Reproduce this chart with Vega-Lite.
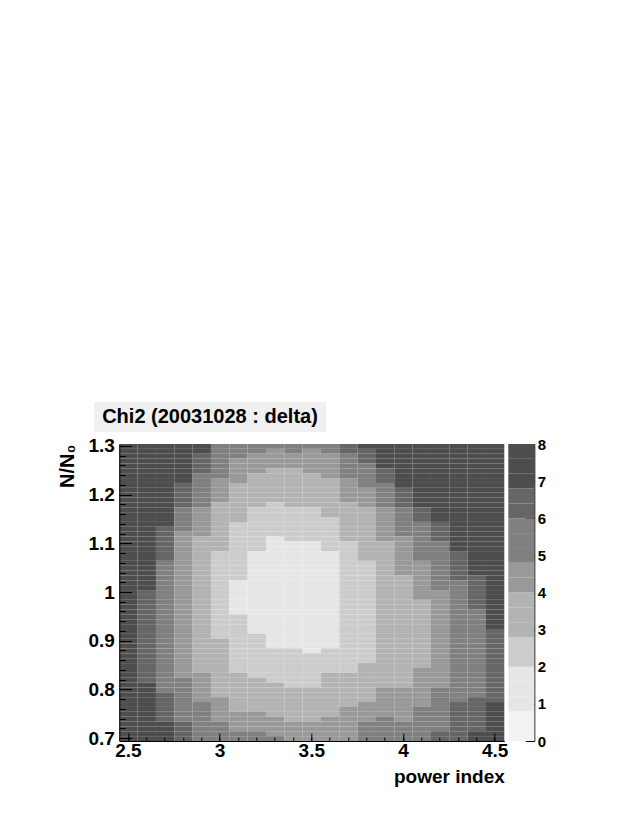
{
 "$schema": "https://vega.github.io/schema/vega-lite/v6.json",
 "padding": {"left": 57, "top": 402, "right": 5, "bottom": 5},
 "config": {"view": {"stroke": null}, "font": "Liberation Sans", "axis": {"grid": false}},
 "datasets": {
  "heat": [
   {"y":1.3,"x25":7.4,"x26":7.4,"x27":7.4,"x28":7.4,"x29":7.4,"x30":5.4,"x31":5.4,"x32":5.4,"x33":5.4,"x34":5.4,"x35":5.4,"x36":5.4,"x37":6.6,"x38":7.4,"x39":7.4,"x40":7.4,"x41":7.4,"x42":7.4,"x43":7.4,"x44":7.4,"x45":7.4},
   {"y":1.29,"x25":7.4,"x26":7.4,"x27":7.4,"x28":7.4,"x29":7.4,"x30":5.4,"x31":5.4,"x32":5.4,"x33":4.6,"x34":5.4,"x35":4.6,"x36":5.4,"x37":6.6,"x38":6.6,"x39":7.4,"x40":7.4,"x41":7.4,"x42":7.4,"x43":7.4,"x44":7.4,"x45":7.4},
   {"y":1.28,"x25":7.4,"x26":7.4,"x27":7.4,"x28":7.4,"x29":6.6,"x30":5.4,"x31":5.4,"x32":4.6,"x33":4.6,"x34":4.6,"x35":4.6,"x36":4.6,"x37":5.4,"x38":6.6,"x39":7.4,"x40":7.4,"x41":7.4,"x42":7.4,"x43":7.4,"x44":7.4,"x45":7.4},
   {"y":1.27,"x25":7.4,"x26":7.4,"x27":7.4,"x28":7.4,"x29":6.6,"x30":5.4,"x31":4.6,"x32":4.6,"x33":4.6,"x34":4.6,"x35":4.6,"x36":4.6,"x37":5.4,"x38":6.6,"x39":7.4,"x40":7.4,"x41":7.4,"x42":7.4,"x43":7.4,"x44":7.4,"x45":7.4},
   {"y":1.26,"x25":7.4,"x26":7.4,"x27":7.4,"x28":7.4,"x29":6.6,"x30":5.4,"x31":4.6,"x32":4.6,"x33":4.6,"x34":4.6,"x35":4.6,"x36":4.6,"x37":5.4,"x38":5.4,"x39":7.4,"x40":7.4,"x41":7.4,"x42":7.4,"x43":7.4,"x44":7.4,"x45":7.4},
   {"y":1.25,"x25":7.4,"x26":7.4,"x27":7.4,"x28":7.4,"x29":6.6,"x30":5.4,"x31":4.6,"x32":4.6,"x33":3.4,"x34":3.4,"x35":4.6,"x36":4.6,"x37":5.4,"x38":5.4,"x39":6.6,"x40":7.4,"x41":7.4,"x42":7.4,"x43":7.4,"x44":7.4,"x45":7.4},
   {"y":1.24,"x25":7.4,"x26":7.4,"x27":7.4,"x28":7.4,"x29":5.4,"x30":5.4,"x31":4.6,"x32":3.4,"x33":3.4,"x34":3.4,"x35":3.4,"x36":4.6,"x37":5.4,"x38":5.4,"x39":6.6,"x40":7.4,"x41":7.4,"x42":7.4,"x43":7.4,"x44":7.4,"x45":7.4},
   {"y":1.23,"x25":7.4,"x26":7.4,"x27":7.4,"x28":7.4,"x29":5.4,"x30":4.6,"x31":4.6,"x32":3.4,"x33":3.4,"x34":3.4,"x35":3.4,"x36":3.4,"x37":4.6,"x38":5.4,"x39":6.6,"x40":7.4,"x41":7.4,"x42":7.4,"x43":7.4,"x44":7.4,"x45":7.4},
   {"y":1.22,"x25":7.4,"x26":7.4,"x27":7.4,"x28":6.6,"x29":5.4,"x30":4.6,"x31":3.4,"x32":3.4,"x33":3.4,"x34":3.4,"x35":3.4,"x36":3.4,"x37":4.6,"x38":5.4,"x39":5.4,"x40":7.4,"x41":7.4,"x42":7.4,"x43":7.4,"x44":7.4,"x45":7.4},
   {"y":1.21,"x25":7.4,"x26":7.4,"x27":7.4,"x28":6.6,"x29":5.4,"x30":4.6,"x31":3.4,"x32":3.4,"x33":3.4,"x34":3.4,"x35":3.4,"x36":3.4,"x37":4.6,"x38":4.6,"x39":5.4,"x40":6.6,"x41":7.4,"x42":7.4,"x43":7.4,"x44":7.4,"x45":7.4},
   {"y":1.2,"x25":7.4,"x26":7.4,"x27":7.4,"x28":6.6,"x29":5.4,"x30":4.6,"x31":3.4,"x32":3.4,"x33":3.4,"x34":3.4,"x35":3.4,"x36":3.4,"x37":4.6,"x38":4.6,"x39":5.4,"x40":6.6,"x41":7.4,"x42":7.4,"x43":7.4,"x44":7.4,"x45":7.4},
   {"y":1.19,"x25":7.4,"x26":7.4,"x27":7.4,"x28":6.6,"x29":5.4,"x30":4.6,"x31":3.4,"x32":3.4,"x33":3.4,"x34":3.4,"x35":3.4,"x36":3.4,"x37":4.6,"x38":4.6,"x39":5.4,"x40":6.6,"x41":7.4,"x42":7.4,"x43":7.4,"x44":7.4,"x45":7.4},
   {"y":1.18,"x25":7.4,"x26":7.4,"x27":7.4,"x28":6.6,"x29":5.4,"x30":3.4,"x31":3.4,"x32":3.4,"x33":2.6,"x34":3.4,"x35":3.4,"x36":3.4,"x37":3.4,"x38":4.6,"x39":5.4,"x40":6.6,"x41":7.4,"x42":7.4,"x43":7.4,"x44":7.4,"x45":7.4},
   {"y":1.17,"x25":7.4,"x26":7.4,"x27":7.4,"x28":5.4,"x29":4.6,"x30":3.4,"x31":3.4,"x32":2.6,"x33":2.6,"x34":2.6,"x35":2.6,"x36":3.4,"x37":3.4,"x38":3.4,"x39":4.6,"x40":5.4,"x41":6.6,"x42":7.4,"x43":7.4,"x44":7.4,"x45":7.4},
   {"y":1.16,"x25":7.4,"x26":7.4,"x27":7.4,"x28":5.4,"x29":4.6,"x30":3.4,"x31":3.4,"x32":2.6,"x33":2.6,"x34":2.6,"x35":2.6,"x36":3.4,"x37":3.4,"x38":3.4,"x39":4.6,"x40":5.4,"x41":6.6,"x42":7.4,"x43":7.4,"x44":7.4,"x45":7.4},
   {"y":1.15,"x25":7.4,"x26":7.4,"x27":7.4,"x28":5.4,"x29":4.6,"x30":3.4,"x31":3.4,"x32":2.6,"x33":2.6,"x34":2.6,"x35":2.6,"x36":2.6,"x37":3.4,"x38":3.4,"x39":4.6,"x40":5.4,"x41":6.6,"x42":7.4,"x43":7.4,"x44":7.4,"x45":7.4},
   {"y":1.14,"x25":7.4,"x26":7.4,"x27":7.4,"x28":5.4,"x29":4.6,"x30":3.4,"x31":2.6,"x32":2.6,"x33":2.6,"x34":2.6,"x35":2.6,"x36":2.6,"x37":3.4,"x38":3.4,"x39":4.6,"x40":5.4,"x41":5.4,"x42":6.6,"x43":7.4,"x44":7.4,"x45":7.4},
   {"y":1.13,"x25":7.4,"x26":7.4,"x27":6.6,"x28":5.4,"x29":4.6,"x30":3.4,"x31":2.6,"x32":2.6,"x33":2.6,"x34":2.6,"x35":2.6,"x36":2.6,"x37":3.4,"x38":3.4,"x39":4.6,"x40":5.4,"x41":5.4,"x42":6.6,"x43":7.4,"x44":7.4,"x45":7.4},
   {"y":1.12,"x25":7.4,"x26":7.4,"x27":6.6,"x28":4.6,"x29":4.6,"x30":3.4,"x31":2.6,"x32":2.6,"x33":2.6,"x34":2.6,"x35":2.6,"x36":2.6,"x37":3.4,"x38":3.4,"x39":4.6,"x40":5.4,"x41":5.4,"x42":6.6,"x43":7.4,"x44":7.4,"x45":7.4},
   {"y":1.11,"x25":7.4,"x26":7.4,"x27":6.6,"x28":4.6,"x29":3.4,"x30":3.4,"x31":2.6,"x32":2.6,"x33":1.4,"x34":2.6,"x35":2.6,"x36":2.6,"x37":3.4,"x38":3.4,"x39":4.6,"x40":4.6,"x41":5.4,"x42":6.6,"x43":7.4,"x44":7.4,"x45":7.4},
   {"y":1.1,"x25":7.4,"x26":7.4,"x27":6.6,"x28":4.6,"x29":3.4,"x30":3.4,"x31":2.6,"x32":2.6,"x33":1.4,"x34":1.4,"x35":1.4,"x36":2.6,"x37":2.6,"x38":3.4,"x39":3.4,"x40":4.6,"x41":5.4,"x42":5.4,"x43":7.4,"x44":7.4,"x45":7.4},
   {"y":1.09,"x25":7.4,"x26":7.4,"x27":6.6,"x28":4.6,"x29":3.4,"x30":3.4,"x31":2.6,"x32":2.6,"x33":1.4,"x34":1.4,"x35":1.4,"x36":2.6,"x37":2.6,"x38":3.4,"x39":3.4,"x40":4.6,"x41":5.4,"x42":5.4,"x43":7.4,"x44":7.4,"x45":7.4},
   {"y":1.08,"x25":7.4,"x26":7.4,"x27":6.6,"x28":4.6,"x29":3.4,"x30":2.6,"x31":2.6,"x32":1.4,"x33":1.4,"x34":1.4,"x35":1.4,"x36":1.4,"x37":2.6,"x38":3.4,"x39":3.4,"x40":4.6,"x41":5.4,"x42":5.4,"x43":6.6,"x44":7.4,"x45":7.4},
   {"y":1.07,"x25":7.4,"x26":7.4,"x27":6.6,"x28":4.6,"x29":3.4,"x30":2.6,"x31":2.6,"x32":1.4,"x33":1.4,"x34":1.4,"x35":1.4,"x36":1.4,"x37":2.6,"x38":3.4,"x39":3.4,"x40":4.6,"x41":5.4,"x42":5.4,"x43":6.6,"x44":7.4,"x45":7.4},
   {"y":1.06,"x25":7.4,"x26":7.4,"x27":5.4,"x28":4.6,"x29":3.4,"x30":2.6,"x31":2.6,"x32":1.4,"x33":1.4,"x34":1.4,"x35":1.4,"x36":1.4,"x37":2.6,"x38":2.6,"x39":3.4,"x40":4.6,"x41":4.6,"x42":5.4,"x43":6.6,"x44":7.4,"x45":7.4},
   {"y":1.05,"x25":7.4,"x26":7.4,"x27":5.4,"x28":4.6,"x29":3.4,"x30":2.6,"x31":2.6,"x32":1.4,"x33":1.4,"x34":1.4,"x35":1.4,"x36":1.4,"x37":2.6,"x38":2.6,"x39":3.4,"x40":4.6,"x41":4.6,"x42":5.4,"x43":6.6,"x44":7.4,"x45":7.4},
   {"y":1.04,"x25":7.4,"x26":7.4,"x27":5.4,"x28":4.6,"x29":3.4,"x30":2.6,"x31":2.6,"x32":1.4,"x33":1.4,"x34":1.4,"x35":1.4,"x36":1.4,"x37":2.6,"x38":2.6,"x39":3.4,"x40":4.6,"x41":4.6,"x42":5.4,"x43":6.6,"x44":7.4,"x45":7.4},
   {"y":1.03,"x25":7.4,"x26":7.4,"x27":5.4,"x28":4.6,"x29":3.4,"x30":2.6,"x31":2.6,"x32":1.4,"x33":1.4,"x34":1.4,"x35":1.4,"x36":1.4,"x37":2.6,"x38":2.6,"x39":3.4,"x40":3.4,"x41":4.6,"x42":5.4,"x43":6.6,"x44":6.6,"x45":7.4},
   {"y":1.02,"x25":7.4,"x26":7.4,"x27":5.4,"x28":4.6,"x29":3.4,"x30":2.6,"x31":1.4,"x32":1.4,"x33":1.4,"x34":1.4,"x35":1.4,"x36":1.4,"x37":2.6,"x38":2.6,"x39":3.4,"x40":3.4,"x41":4.6,"x42":5.4,"x43":5.4,"x44":6.6,"x45":7.4},
   {"y":1.01,"x25":7.4,"x26":7.4,"x27":5.4,"x28":4.6,"x29":3.4,"x30":2.6,"x31":1.4,"x32":1.4,"x33":1.4,"x34":1.4,"x35":1.4,"x36":1.4,"x37":2.6,"x38":2.6,"x39":3.4,"x40":3.4,"x41":4.6,"x42":5.4,"x43":5.4,"x44":6.6,"x45":7.4},
   {"y":1,"x25":7.4,"x26":6.6,"x27":5.4,"x28":4.6,"x29":3.4,"x30":2.6,"x31":1.4,"x32":1.4,"x33":1.4,"x34":1.4,"x35":1.4,"x36":1.4,"x37":2.6,"x38":2.6,"x39":3.4,"x40":3.4,"x41":4.6,"x42":4.6,"x43":5.4,"x44":6.6,"x45":7.4},
   {"y":0.99,"x25":7.4,"x26":6.6,"x27":5.4,"x28":4.6,"x29":3.4,"x30":2.6,"x31":1.4,"x32":1.4,"x33":1.4,"x34":1.4,"x35":1.4,"x36":1.4,"x37":2.6,"x38":2.6,"x39":3.4,"x40":3.4,"x41":4.6,"x42":4.6,"x43":5.4,"x44":6.6,"x45":7.4},
   {"y":0.98,"x25":7.4,"x26":6.6,"x27":5.4,"x28":4.6,"x29":3.4,"x30":2.6,"x31":1.4,"x32":1.4,"x33":1.4,"x34":1.4,"x35":1.4,"x36":1.4,"x37":2.6,"x38":2.6,"x39":3.4,"x40":3.4,"x41":3.4,"x42":4.6,"x43":5.4,"x44":6.6,"x45":7.4},
   {"y":0.97,"x25":7.4,"x26":6.6,"x27":5.4,"x28":4.6,"x29":3.4,"x30":2.6,"x31":1.4,"x32":1.4,"x33":1.4,"x34":1.4,"x35":1.4,"x36":1.4,"x37":2.6,"x38":2.6,"x39":3.4,"x40":3.4,"x41":3.4,"x42":4.6,"x43":5.4,"x44":6.6,"x45":7.4},
   {"y":0.96,"x25":7.4,"x26":6.6,"x27":5.4,"x28":4.6,"x29":3.4,"x30":2.6,"x31":1.4,"x32":1.4,"x33":1.4,"x34":1.4,"x35":1.4,"x36":1.4,"x37":2.6,"x38":2.6,"x39":3.4,"x40":3.4,"x41":3.4,"x42":4.6,"x43":5.4,"x44":5.4,"x45":7.4},
   {"y":0.95,"x25":7.4,"x26":6.6,"x27":5.4,"x28":4.6,"x29":3.4,"x30":2.6,"x31":2.6,"x32":1.4,"x33":1.4,"x34":1.4,"x35":1.4,"x36":1.4,"x37":2.6,"x38":2.6,"x39":3.4,"x40":3.4,"x41":3.4,"x42":4.6,"x43":5.4,"x44":5.4,"x45":7.4},
   {"y":0.94,"x25":7.4,"x26":6.6,"x27":5.4,"x28":4.6,"x29":3.4,"x30":2.6,"x31":2.6,"x32":1.4,"x33":1.4,"x34":1.4,"x35":1.4,"x36":1.4,"x37":2.6,"x38":2.6,"x39":3.4,"x40":3.4,"x41":3.4,"x42":4.6,"x43":5.4,"x44":5.4,"x45":7.4},
   {"y":0.93,"x25":7.4,"x26":6.6,"x27":5.4,"x28":4.6,"x29":3.4,"x30":2.6,"x31":2.6,"x32":1.4,"x33":1.4,"x34":1.4,"x35":1.4,"x36":1.4,"x37":2.6,"x38":2.6,"x39":3.4,"x40":3.4,"x41":3.4,"x42":4.6,"x43":5.4,"x44":5.4,"x45":7.4},
   {"y":0.92,"x25":7.4,"x26":6.6,"x27":5.4,"x28":4.6,"x29":3.4,"x30":2.6,"x31":2.6,"x32":1.4,"x33":1.4,"x34":1.4,"x35":1.4,"x36":1.4,"x37":2.6,"x38":2.6,"x39":3.4,"x40":3.4,"x41":3.4,"x42":4.6,"x43":5.4,"x44":5.4,"x45":6.6},
   {"y":0.91,"x25":7.4,"x26":6.6,"x27":5.4,"x28":4.6,"x29":3.4,"x30":2.6,"x31":2.6,"x32":2.6,"x33":1.4,"x34":1.4,"x35":1.4,"x36":1.4,"x37":2.6,"x38":2.6,"x39":3.4,"x40":3.4,"x41":3.4,"x42":4.6,"x43":5.4,"x44":5.4,"x45":6.6},
   {"y":0.9,"x25":7.4,"x26":6.6,"x27":5.4,"x28":4.6,"x29":3.4,"x30":3.4,"x31":2.6,"x32":2.6,"x33":1.4,"x34":1.4,"x35":1.4,"x36":1.4,"x37":2.6,"x38":2.6,"x39":3.4,"x40":3.4,"x41":3.4,"x42":4.6,"x43":5.4,"x44":5.4,"x45":6.6},
   {"y":0.89,"x25":7.4,"x26":6.6,"x27":5.4,"x28":4.6,"x29":3.4,"x30":3.4,"x31":2.6,"x32":2.6,"x33":1.4,"x34":1.4,"x35":1.4,"x36":1.4,"x37":2.6,"x38":2.6,"x39":3.4,"x40":3.4,"x41":3.4,"x42":4.6,"x43":5.4,"x44":5.4,"x45":6.6},
   {"y":0.88,"x25":7.4,"x26":6.6,"x27":5.4,"x28":4.6,"x29":3.4,"x30":3.4,"x31":2.6,"x32":2.6,"x33":2.6,"x34":2.6,"x35":1.4,"x36":2.6,"x37":2.6,"x38":2.6,"x39":3.4,"x40":3.4,"x41":3.4,"x42":4.6,"x43":5.4,"x44":5.4,"x45":6.6},
   {"y":0.87,"x25":7.4,"x26":6.6,"x27":5.4,"x28":4.6,"x29":3.4,"x30":3.4,"x31":2.6,"x32":2.6,"x33":2.6,"x34":2.6,"x35":2.6,"x36":2.6,"x37":2.6,"x38":2.6,"x39":3.4,"x40":3.4,"x41":3.4,"x42":4.6,"x43":5.4,"x44":5.4,"x45":6.6},
   {"y":0.86,"x25":7.4,"x26":6.6,"x27":5.4,"x28":4.6,"x29":3.4,"x30":3.4,"x31":2.6,"x32":2.6,"x33":2.6,"x34":2.6,"x35":2.6,"x36":2.6,"x37":2.6,"x38":2.6,"x39":3.4,"x40":3.4,"x41":3.4,"x42":4.6,"x43":5.4,"x44":5.4,"x45":6.6},
   {"y":0.85,"x25":7.4,"x26":6.6,"x27":5.4,"x28":4.6,"x29":3.4,"x30":3.4,"x31":2.6,"x32":2.6,"x33":2.6,"x34":2.6,"x35":2.6,"x36":2.6,"x37":2.6,"x38":3.4,"x39":3.4,"x40":3.4,"x41":3.4,"x42":4.6,"x43":5.4,"x44":5.4,"x45":6.6},
   {"y":0.84,"x25":7.4,"x26":6.6,"x27":5.4,"x28":4.6,"x29":3.4,"x30":3.4,"x31":2.6,"x32":2.6,"x33":2.6,"x34":2.6,"x35":2.6,"x36":2.6,"x37":2.6,"x38":3.4,"x39":3.4,"x40":3.4,"x41":4.6,"x42":4.6,"x43":5.4,"x44":5.4,"x45":6.6},
   {"y":0.83,"x25":7.4,"x26":6.6,"x27":5.4,"x28":4.6,"x29":4.6,"x30":3.4,"x31":3.4,"x32":2.6,"x33":2.6,"x34":2.6,"x35":2.6,"x36":3.4,"x37":3.4,"x38":3.4,"x39":3.4,"x40":3.4,"x41":4.6,"x42":4.6,"x43":5.4,"x44":5.4,"x45":6.6},
   {"y":0.82,"x25":7.4,"x26":6.6,"x27":5.4,"x28":5.4,"x29":4.6,"x30":3.4,"x31":3.4,"x32":3.4,"x33":2.6,"x34":2.6,"x35":2.6,"x36":3.4,"x37":3.4,"x38":3.4,"x39":3.4,"x40":3.4,"x41":4.6,"x42":4.6,"x43":5.4,"x44":5.4,"x45":6.6},
   {"y":0.81,"x25":7.4,"x26":7.4,"x27":5.4,"x28":5.4,"x29":4.6,"x30":3.4,"x31":3.4,"x32":3.4,"x33":3.4,"x34":2.6,"x35":2.6,"x36":3.4,"x37":3.4,"x38":3.4,"x39":3.4,"x40":3.4,"x41":4.6,"x42":4.6,"x43":5.4,"x44":5.4,"x45":6.6},
   {"y":0.8,"x25":7.4,"x26":7.4,"x27":5.4,"x28":5.4,"x29":4.6,"x30":3.4,"x31":3.4,"x32":3.4,"x33":3.4,"x34":3.4,"x35":3.4,"x36":3.4,"x37":3.4,"x38":3.4,"x39":4.6,"x40":4.6,"x41":4.6,"x42":5.4,"x43":5.4,"x44":5.4,"x45":6.6},
   {"y":0.79,"x25":7.4,"x26":7.4,"x27":6.6,"x28":5.4,"x29":4.6,"x30":3.4,"x31":3.4,"x32":3.4,"x33":3.4,"x34":3.4,"x35":3.4,"x36":3.4,"x37":3.4,"x38":3.4,"x39":4.6,"x40":4.6,"x41":4.6,"x42":5.4,"x43":5.4,"x44":5.4,"x45":6.6},
   {"y":0.78,"x25":7.4,"x26":7.4,"x27":6.6,"x28":5.4,"x29":4.6,"x30":4.6,"x31":3.4,"x32":3.4,"x33":3.4,"x34":3.4,"x35":3.4,"x36":3.4,"x37":3.4,"x38":3.4,"x39":4.6,"x40":4.6,"x41":4.6,"x42":5.4,"x43":5.4,"x44":6.6,"x45":6.6},
   {"y":0.77,"x25":7.4,"x26":7.4,"x27":6.6,"x28":5.4,"x29":5.4,"x30":4.6,"x31":3.4,"x32":3.4,"x33":3.4,"x34":3.4,"x35":3.4,"x36":3.4,"x37":3.4,"x38":4.6,"x39":4.6,"x40":4.6,"x41":4.6,"x42":5.4,"x43":6.6,"x44":6.6,"x45":7.4},
   {"y":0.76,"x25":7.4,"x26":7.4,"x27":6.6,"x28":5.4,"x29":5.4,"x30":4.6,"x31":3.4,"x32":3.4,"x33":3.4,"x34":3.4,"x35":3.4,"x36":3.4,"x37":4.6,"x38":4.6,"x39":4.6,"x40":4.6,"x41":5.4,"x42":5.4,"x43":6.6,"x44":6.6,"x45":7.4},
   {"y":0.75,"x25":7.4,"x26":7.4,"x27":6.6,"x28":5.4,"x29":5.4,"x30":4.6,"x31":4.6,"x32":4.6,"x33":3.4,"x34":3.4,"x35":3.4,"x36":3.4,"x37":4.6,"x38":4.6,"x39":4.6,"x40":4.6,"x41":5.4,"x42":5.4,"x43":6.6,"x44":6.6,"x45":7.4},
   {"y":0.74,"x25":7.4,"x26":7.4,"x27":6.6,"x28":5.4,"x29":5.4,"x30":4.6,"x31":4.6,"x32":4.6,"x33":4.6,"x34":3.4,"x35":3.4,"x36":4.6,"x37":4.6,"x38":4.6,"x39":5.4,"x40":4.6,"x41":5.4,"x42":5.4,"x43":6.6,"x44":6.6,"x45":7.4},
   {"y":0.73,"x25":7.4,"x26":7.4,"x27":7.4,"x28":6.6,"x29":5.4,"x30":5.4,"x31":4.6,"x32":4.6,"x33":4.6,"x34":4.6,"x35":4.6,"x36":4.6,"x37":4.6,"x38":5.4,"x39":5.4,"x40":5.4,"x41":5.4,"x42":5.4,"x43":6.6,"x44":6.6,"x45":7.4},
   {"y":0.72,"x25":7.4,"x26":7.4,"x27":7.4,"x28":6.6,"x29":5.4,"x30":5.4,"x31":4.6,"x32":4.6,"x33":4.6,"x34":4.6,"x35":4.6,"x36":4.6,"x37":4.6,"x38":5.4,"x39":5.4,"x40":5.4,"x41":5.4,"x42":5.4,"x43":6.6,"x44":6.6,"x45":7.4},
   {"y":0.71,"x25":7.4,"x26":7.4,"x27":7.4,"x28":6.6,"x29":5.4,"x30":5.4,"x31":5.4,"x32":5.4,"x33":4.6,"x34":4.6,"x35":4.6,"x36":4.6,"x37":4.6,"x38":5.4,"x39":5.4,"x40":5.4,"x41":5.4,"x42":6.6,"x43":6.6,"x44":7.4,"x45":7.4},
   {"y":0.7,"x25":7.4,"x26":7.4,"x27":7.4,"x28":6.6,"x29":5.4,"x30":5.4,"x31":5.4,"x32":5.4,"x33":5.4,"x34":4.6,"x35":4.6,"x36":4.6,"x37":4.6,"x38":5.4,"x39":5.4,"x40":5.4,"x41":5.4,"x42":6.6,"x43":6.6,"x44":7.4,"x45":7.4}
  ],
  "bar": [
   {"lo":0,"hi":0.4,"v":0.2},{"lo":0.4,"hi":0.8,"v":0.6},{"lo":0.8,"hi":1.2,"v":1},{"lo":1.2,"hi":1.6,"v":1.4},{"lo":1.6,"hi":2,"v":1.8},
   {"lo":2,"hi":2.4,"v":2.2},{"lo":2.4,"hi":2.8,"v":2.6},{"lo":2.8,"hi":3.2,"v":3},{"lo":3.2,"hi":3.6,"v":3.4},{"lo":3.6,"hi":4,"v":3.8},
   {"lo":4,"hi":4.4,"v":4.2},{"lo":4.4,"hi":4.8,"v":4.6},{"lo":4.8,"hi":5.2,"v":5},{"lo":5.2,"hi":5.6,"v":5.4},{"lo":5.6,"hi":6,"v":5.8},
   {"lo":6,"hi":6.4,"v":6.2},{"lo":6.4,"hi":6.8,"v":6.6},{"lo":6.8,"hi":7.2,"v":7},{"lo":7.2,"hi":7.6,"v":7.4},{"lo":7.6,"hi":8,"v":7.8}
  ]
 },
 "vconcat": [
  {"width": 232, "height": 30, "view": {"fill": "#f0f0f0", "stroke": null}, "data": {"values": [{"t": "Chi2 (20031028 : delta)"}]},
   "mark": {"type": "text", "font": "Liberation Sans", "fontWeight": "bold", "fontSize": 20, "color": "black", "align": "center", "baseline": "middle"},
   "encoding": {"text": {"field": "t"}}},
  {
   "hconcat": [
    {"width": 1, "height": 1, "view": {"fill": "#ffffff", "stroke": null}, "data": {"values": [{}]}, "mark": {"type": "point", "opacity": 0}, "encoding": {}},
    {
     "hconcat": [
      {
       "width": 385, "height": 297,
       "data": {"name": "heat"},
       "transform": [{"fold": ["x25","x26","x27","x28","x29","x30","x31","x32","x33","x34","x35","x36","x37","x38","x39","x40","x41","x42","x43","x44","x45"], "as": ["px", "v"]}],
       "layer": [
        {
         "mark": {"type": "rect"},
         "encoding": {
          "x": {"field": "px", "type": "ordinal", "scale": {"paddingInner": 0, "paddingOuter": 0},
                "axis": {"orient": "bottom", "values": ["x25","x30","x35","x40","x45"], "labelExpr": "replace(substring(datum.value,1,2)+'.'+substring(datum.value,2,3),'.0','')",
                         "labelAngle": 0, "tickSize": -8, "tickColor": "black", "tickWidth": 1, "domainColor": "black", "domainWidth": 1,
                         "labelFont": "Liberation Sans", "labelFontWeight": "bold", "labelFontSize": 19, "labelColor": "black", "labelPadding": 8,
                         "title": "power index", "titleFont": "Liberation Sans", "titleFontWeight": "bold", "titleFontSize": 19, "titleColor": "black", "titleAnchor": "end", "titlePadding": 7}},
          "y": {"field": "y", "type": "ordinal", "sort": "descending", "scale": {"paddingInner": 0, "paddingOuter": 0},
                "axis": {"orient": "left", "values": [0.7,0.8,0.9,1,1.1,1.2,1.3], "tickSize": -12, "tickColor": "black", "tickWidth": 1, "domainColor": "black", "domainWidth": 1,
                         "labelFont": "Liberation Sans", "labelFontWeight": "bold", "labelFontSize": 19, "labelColor": "black", "labelPadding": 17,
                         "title": "N/N₀", "titleFont": "Liberation Sans", "titleFontWeight": "bold", "titleFontSize": 20, "titleColor": "black", "titleAnchor": "start", "titleAlign": "right", "titlePadding": 10}},
          "color": {"field": "v", "type": "quantitative", "legend": null,
                    "scale": {"type": "quantize", "domain": [0, 8], "nice": false, "zero": false,
                              "range": ["#f2f2f2","#f2f2f2","#e6e6e6","#e6e6e6","#e6e6e6","#cccccc","#cccccc","#b3b3b3","#b3b3b3","#b3b3b3","#999999","#999999","#808080","#808080","#808080","#666666","#666666","#4d4d4d","#4d4d4d","#4d4d4d"]}}
         }
        },
        {
         "mark": {"type": "rect", "opacity": 0},
         "encoding": {
          "x": {"field": "px", "type": "ordinal", "axis": {"orient": "bottom", "labels": false, "domain": false, "tickSize": -4, "tickColor": "black", "title": null}},
          "y": {"field": "y", "type": "ordinal", "sort": "descending",
                "axis": {"orient": "left", "labels": false, "domain": false, "tickSize": -6, "tickColor": "black", "title": null,
                         "values": [0.7,0.72,0.74,0.76,0.78,0.8,0.82,0.84,0.86,0.88,0.9,0.92,0.94,0.96,0.98,1,1.02,1.04,1.06,1.08,1.1,1.12,1.14,1.16,1.18,1.2,1.22,1.24,1.26,1.28,1.3]}}
         }
        }
       ],
       "resolve": {"axis": {"x": "independent", "y": "independent"}}
      },
      {
       "width": 26, "height": 297,
       "data": {"name": "bar"},
       "mark": {"type": "rect"},
       "encoding": {
        "y": {"field": "lo", "type": "quantitative", "scale": {"domain": [0, 8], "nice": false, "zero": false},
              "axis": {"orient": "right", "values": [0,1,2,3,4,5,6,7,8], "tickSize": -9, "tickColor": "black", "domainColor": "black",
                       "labelFont": "Liberation Sans", "labelFontWeight": "bold", "labelFontSize": 15, "labelColor": "black", "labelPadding": 12, "title": null, "grid": false}},
        "y2": {"field": "hi"},
        "color": {"field": "v", "type": "quantitative", "legend": null,
                  "scale": {"type": "quantize", "domain": [0, 8], "nice": false, "zero": false,
                            "range": ["#f2f2f2","#f2f2f2","#e6e6e6","#e6e6e6","#e6e6e6","#cccccc","#cccccc","#b3b3b3","#b3b3b3","#b3b3b3","#999999","#999999","#808080","#808080","#808080","#666666","#666666","#4d4d4d","#4d4d4d","#4d4d4d"]}}
       }
      }
     ],
     "spacing": -2
    }
   ],
   "spacing": -40.7
  }
 ],
 "spacing": 4
}
